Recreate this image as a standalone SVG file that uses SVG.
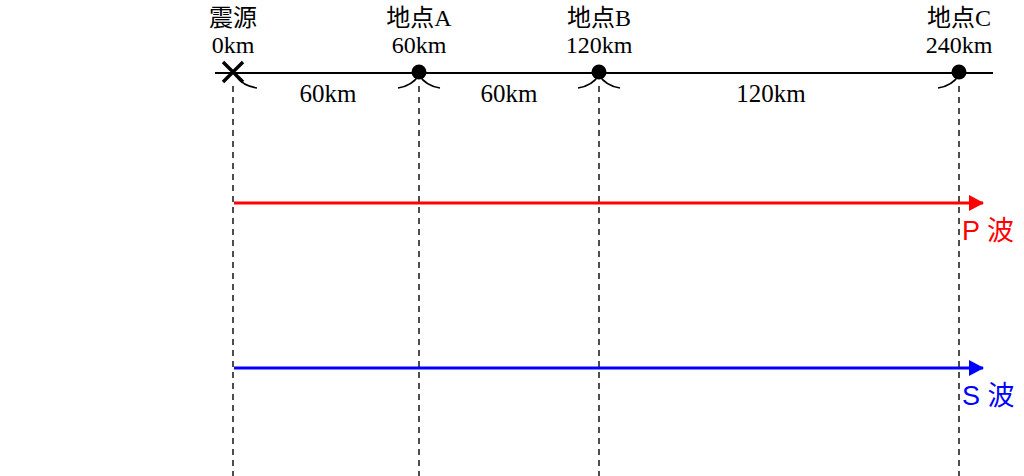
<svg xmlns="http://www.w3.org/2000/svg" width="1024" height="476" viewBox="0 0 1024 476">
<defs>
<style>
.lbl{font-family:"Liberation Serif","Noto Sans CJK JP",serif;font-size:25px;fill:#000;text-anchor:middle}
.top{font-size:24px}
.wave{font-family:"Liberation Sans","Noto Sans CJK JP",sans-serif;font-size:27px}
.dash{stroke:#222;stroke-width:1.6;stroke-dasharray:6 5;fill:none}
.arc{stroke:#000;stroke-width:1.6;fill:none}
</style>
<marker id="ahR" markerWidth="16" markerHeight="16" refX="14" refY="8" orient="auto" markerUnits="userSpaceOnUse"><path d="M0,0 L15,8 L0,16 Z" fill="#ff0000"/></marker>
<marker id="ahB" markerWidth="16" markerHeight="16" refX="14" refY="8" orient="auto" markerUnits="userSpaceOnUse"><path d="M0,0 L15,8 L0,16 Z" fill="#0000ff"/></marker>
</defs>
<rect width="1024" height="476" fill="#fff"/>
<g id="connectors">
<line x1="215" y1="73" x2="993" y2="73" stroke="#000" stroke-width="2"/>
<line class="dash" x1="233" y1="86" x2="233" y2="476"/>
<line class="dash" x1="419" y1="86" x2="419" y2="476"/>
<line class="dash" x1="599" y1="86" x2="599" y2="476"/>
<line class="dash" x1="959" y1="86" x2="959" y2="476"/>
<path class="arc" d="M236,76 Q243,86 257,88"/>
<path class="arc" d="M398,88 Q412,86 419,75 Q426,86 440,88"/>
<path class="arc" d="M578,88 Q592,86 599,75 Q606,86 620,88"/>
<path class="arc" d="M938,88 Q952,86 959,75"/>
<text class="lbl" x="328" y="102">60km</text>
<text class="lbl" x="509" y="102">60km</text>
<text class="lbl" x="771" y="102">120km</text>
</g>
<g id="epicenter">
<path d="M223,62 L243,82 M243,62 L223,82" stroke="#000" stroke-width="3.4"/>
<text class="lbl top" x="233" y="26">震源</text>
<text class="lbl top" x="233" y="53">0km</text>
</g>
<g id="pointA">
<circle cx="419" cy="72" r="7.5" fill="#000"/>
<text class="lbl top" x="419" y="26">地点A</text>
<text class="lbl top" x="419" y="53">60km</text>
</g>
<g id="pointB">
<circle cx="599" cy="72" r="7.5" fill="#000"/>
<text class="lbl top" x="599" y="26">地点B</text>
<text class="lbl top" x="599" y="53">120km</text>
</g>
<g id="pointC">
<circle cx="959" cy="72" r="7.5" fill="#000"/>
<text class="lbl top" x="959" y="26">地点C</text>
<text class="lbl top" x="959" y="53">240km</text>
</g>
<g id="pwave">
<line x1="234" y1="203" x2="983" y2="203" stroke="#ff0000" stroke-width="3" marker-end="url(#ahR)"/>
<text class="wave" x="962" y="240" fill="#ff0000">P 波</text>
</g>
<g id="swave">
<line x1="234" y1="368" x2="983" y2="368" stroke="#0000ff" stroke-width="3" marker-end="url(#ahB)"/>
<text class="wave" x="962" y="405" fill="#0000ff">S 波</text>
</g>
</svg>
